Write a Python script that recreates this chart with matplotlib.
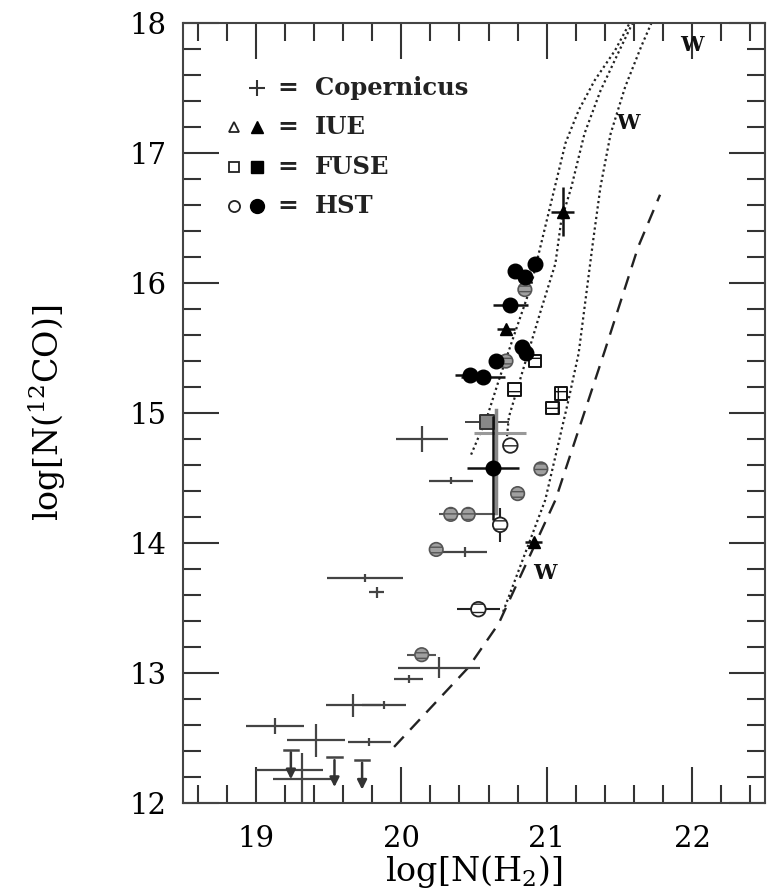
import numpy as np
import matplotlib
matplotlib.use("Agg")
import matplotlib.pyplot as plt
from matplotlib.ticker import MultipleLocator

plt.rcParams['font.family'] = ['DejaVu Serif']
plt.rcParams['mathtext.fontset'] = 'dejavuserif'

# --- model curves (log N(H2), log N(12CO)) ---
curveA_x = [20.48, 20.59, 20.67, 20.77, 20.89, 21.00, 21.13, 21.22, 21.33, 21.47, 21.57]
curveA_y = [14.68, 14.97, 15.25, 15.58, 15.97, 16.48, 17.08, 17.33, 17.56, 17.79, 18.00]
curveB_x = [20.72, 20.74, 20.85, 20.96, 21.06, 21.10, 21.17, 21.26, 21.37, 21.50, 21.59]
curveB_y = [14.74, 14.97, 15.38, 15.79, 16.15, 16.48, 16.74, 17.15, 17.48, 17.79, 18.00]
curveC_x = [20.70, 20.99, 21.15, 21.22, 21.32, 21.37, 21.44, 21.54, 21.65, 21.72]
curveC_y = [13.47, 14.33, 15.10, 15.46, 16.33, 16.74, 17.15, 17.51, 17.82, 18.00]
dash_x = [19.95, 20.46, 20.67, 21.06, 21.40, 21.63, 21.78]
dash_y = [12.43, 13.04, 13.38, 14.33, 15.48, 16.28, 16.68]

# --- Copernicus (error bars only) ---
cop_x = [20.14, 20.34, 20.44, 19.75, 19.83, 20.26, 20.05, 19.67, 19.88, 19.13, 19.41, 19.78, 19.23, 19.32]
cop_y = [14.80, 14.48, 13.93, 13.73, 13.62, 13.04, 12.95, 12.75, 12.75, 12.59, 12.48, 12.47, 12.25, 12.18]
cop_xerr = [0.18, 0.15, 0.15, 0.26, 0.05, 0.28, 0.10, 0.19, 0.15, 0.20, 0.20, 0.15, 0.23, 0.20]
cop_yerr = [0.10, 0.03, 0.04, 0.03, 0.04, 0.08, 0.03, 0.09, 0.03, 0.06, 0.13, 0.03, 0.00, 0.20]

# upper limits
lim_x = [19.24, 19.54, 19.73]
lim_y = [12.41, 12.35, 12.33]

# --- IUE (filled triangles) ---
iue_x = [21.11, 20.72, 20.91]
iue_y = [16.55, 15.65, 14.01]
iue_xerr = [0.08, 0.06, 0.06]
iue_yerr = [0.19, 0.02, 0.03]

# --- HST filled ---
hstf_x = [20.92, 20.78, 20.85, 20.75, 20.83, 20.86, 20.65, 20.47, 20.56, 20.63]
hstf_y = [16.15, 16.09, 16.05, 15.83, 15.51, 15.46, 15.40, 15.29, 15.28, 14.58]
hstf_xerr = [0.02, 0.02, 0.02, 0.12, 0.02, 0.02, 0.05, 0.10, 0.15, 0.18]
hstf_yerr = [0.02, 0.02, 0.02, 0.03, 0.05, 0.05, 0.02, 0.03, 0.02, 0.40]

# --- HST shaded (gray) ---
hstg_x = [20.85, 20.72, 20.96, 20.80, 20.34, 20.46, 20.24, 20.14]
hstg_y = [15.95, 15.40, 14.57, 14.38, 14.22, 14.22, 13.95, 13.14]
hstg_xerr = [0.03, 0.03, 0.03, 0.03, 0.05, 0.20, 0.03, 0.10]

# --- HST open ---
hsto_x = [20.75, 20.68, 20.53]
hsto_y = [14.75, 14.14, 13.49]
hsto_xerr = [0.03, 0.03, 0.15]
hsto_yerr = [0.03, 0.13, 0.02]

# --- FUSE open squares ---
fuse_x = [20.92, 20.78, 21.10, 21.04, 20.59]
fuse_y = [15.40, 15.18, 15.15, 15.04, 14.93]
fuse_xerr = [0.03, 0.03, 0.03, 0.03, 0.15]

# extra gray error bar
extra_x = [20.68]
extra_y = [14.85]
extra_xerr = [0.18]

# W labels
w_x = [22.00, 21.56, 20.99]
w_y = [17.83, 17.23, 13.77]

fig = plt.figure(figsize=(7.67, 8.94), dpi=100)
ax = fig.add_axes([0.239, 0.102, 0.758, 0.872])

dot = (0, (1, 1.4))
ax.plot(curveA_x, curveA_y, ls=dot, color='#222222', lw=1.6)
ax.plot(curveB_x, curveB_y, ls=dot, color='#222222', lw=1.6)
ax.plot(curveC_x, curveC_y, ls=dot, color='#222222', lw=1.6)
ax.plot(dash_x, dash_y, ls=(0, (6, 4)), color='#222222', lw=1.7)

ax.errorbar(cop_x, cop_y, xerr=cop_xerr, yerr=cop_yerr, fmt='none',
            ecolor='#444444', elinewidth=1.6, capsize=0)
for x, y in zip(lim_x, lim_y):
    ax.annotate('', xy=(x, y - 0.25), xytext=(x, y),
                arrowprops=dict(arrowstyle='-|>', color='#333333', lw=1.8,
                                mutation_scale=14))
    ax.plot([x - 0.05, x + 0.05], [y, y], color='#444444', lw=1.8)

ax.errorbar(extra_x, extra_y, xerr=extra_xerr, fmt='none', ecolor='#999999',
            elinewidth=2.2, capsize=0)

ax.errorbar(hstg_x, hstg_y, xerr=hstg_xerr, fmt='none', ecolor='#555555',
            elinewidth=1.5, capsize=0)
ax.scatter(hstg_x, hstg_y, s=95, marker='o', facecolor='#a0a0a0',
           edgecolor='#555555', hatch='---', lw=1.2, zorder=3)

ax.errorbar(hsto_x, hsto_y, xerr=hsto_xerr, yerr=hsto_yerr, fmt='none',
            ecolor='#222222', elinewidth=1.5, capsize=0)
ax.scatter(hsto_x, hsto_y, s=110, marker='o', facecolor='white',
           edgecolor='#222222', hatch='--', lw=1.3, zorder=3)

ax.errorbar(fuse_x, fuse_y, xerr=fuse_xerr, fmt='none', ecolor='#333333',
            elinewidth=1.3, capsize=0)
ax.scatter(fuse_x[:-1], fuse_y[:-1], s=80, marker='s', facecolor='white',
           edgecolor='#111111', hatch='+', lw=1.4, zorder=3)
ax.scatter(fuse_x[-1:], fuse_y[-1:], s=100, marker='s', facecolor='#888888',
           edgecolor='#333333', lw=1.4, zorder=3)
ax.plot([20.65, 20.65], [14.23, 15.02], color='#888888', lw=2.5, zorder=2)

ax.errorbar(hstf_x, hstf_y, xerr=hstf_xerr, yerr=hstf_yerr, fmt='o',
            color='black', ms=10.5, ecolor='#111111', elinewidth=1.8, capsize=0,
            zorder=4)

ax.errorbar(iue_x, iue_y, xerr=iue_xerr, yerr=iue_yerr, fmt='^',
            color='black', ms=9, ecolor='#111111', elinewidth=1.8, capsize=0,
            zorder=4)

for x, y in zip(w_x, w_y):
    ax.text(x, y, 'W', ha='center', va='center', fontsize=15,
            fontweight='bold', color='#111111')

# legend drawn by hand
legend_rows = [(0.917, 'Copernicus'), (0.867, 'IUE'), (0.815, 'FUSE'), (0.765, 'HST')]
tr = ax.transAxes
ax.plot([0.127], [0.917], marker='+', ms=12, mew=1.5, color='#333333', transform=tr)
ax.plot([0.087], [0.867], marker='^', ms=7, mfc='white', mec='#222222', mew=1.3, transform=tr)
ax.plot([0.127], [0.867], marker='^', ms=8, color='black', transform=tr)
ax.plot([0.087], [0.815], marker='s', ms=7, mfc='white', mec='#222222', mew=1.3, transform=tr)
ax.plot([0.127], [0.815], marker='s', ms=8, color='black', transform=tr)
ax.plot([0.087], [0.765], marker='o', ms=8, mfc='white', mec='#222222', mew=1.3, transform=tr)
ax.plot([0.127], [0.765], marker='o', ms=10, color='black', transform=tr)
for y, lab in legend_rows:
    ax.text(0.180, y, '=', transform=tr, ha='center', va='center', fontsize=18,
            fontweight='bold', color='#222222')
    ax.text(0.226, y, lab, transform=tr, ha='left', va='center', fontsize=17.5,
            fontweight='bold', color='#222222')

ax.set_xlim(18.5, 22.5)
ax.set_ylim(12, 18)
ax.xaxis.set_major_locator(MultipleLocator(1))
ax.xaxis.set_minor_locator(MultipleLocator(0.2))
ax.yaxis.set_major_locator(MultipleLocator(1))
ax.yaxis.set_minor_locator(MultipleLocator(0.2))
ax.tick_params(which='both', direction='in', top=True, right=True,
               color='#333333', width=1.5)
ax.tick_params(which='major', length=26, labelsize=21)
ax.tick_params(axis='x', which='major', pad=16)
ax.tick_params(axis='y', which='major', pad=12)
ax.tick_params(which='minor', length=13)
for s in ax.spines.values():
    s.set_linewidth(1.5)
    s.set_color('#444444')

ax.set_xlabel(r'log[N(H$_2$)]', fontsize=24, labelpad=0)
ax.set_ylabel(r'log[N($^{12}$CO)]', fontsize=24, labelpad=44)

fig.savefig('out.png', dpi=100)
